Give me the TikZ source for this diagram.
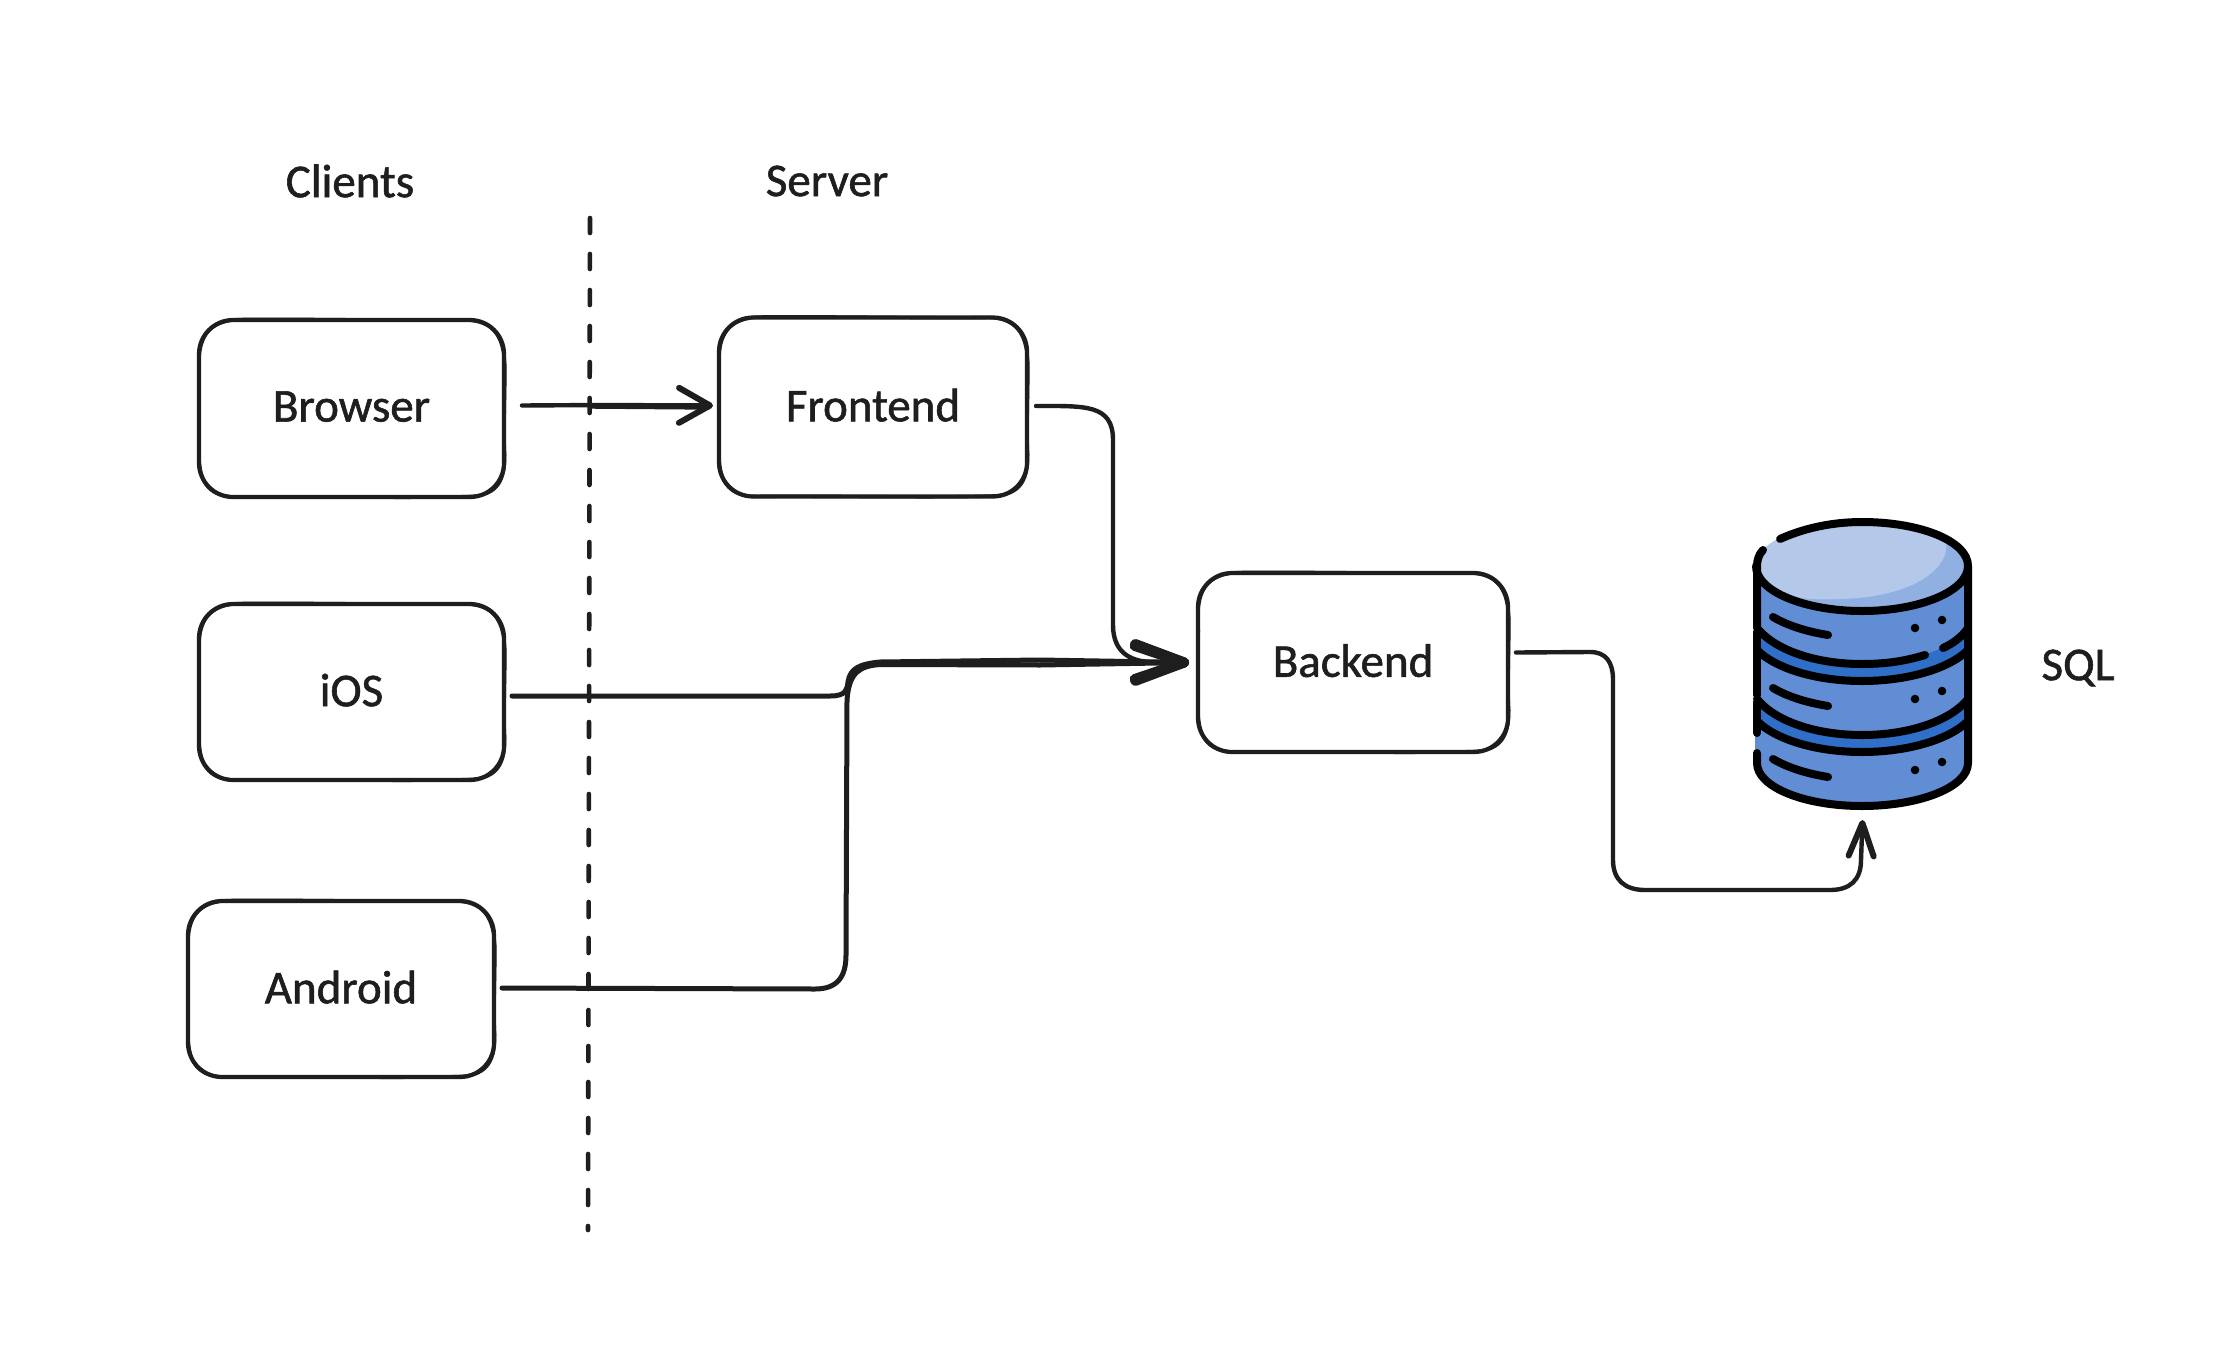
\documentclass[tikz,border=0pt]{standalone}
\usepackage{fontspec}
\setmainfont{Carlito}[FakeBold=1.2]
\usetikzlibrary{arrows.meta,calc}
\definecolor{ink}{HTML}{1E1E1E}
\definecolor{dbtop}{HTML}{B4C9E9}
\definecolor{dbshade}{HTML}{8FB0E0}
\definecolor{dbbody}{HTML}{618DD5}
\definecolor{dbband}{HTML}{2F6FC8}
\tikzset{
  boxnode/.style={draw=ink,line width=4.2pt,rounded corners=34pt,minimum width=#1,inner sep=0pt,outer sep=0pt,text=ink,font=\fontsize{47}{52}\selectfont},
  boxpass/.style={draw=ink,line width=3.4pt,line cap=round},
  label/.style={text=ink,font=\fontsize{47}{52}\selectfont,inner sep=0pt},
  conn/.style={draw=ink,line width=4.4pt,line cap=round,line join=round},
  barb/.style n args={3}{-{Straight Barb[length=#1,width=#2,line width=#3,round]}},
  divider/.style={draw=ink,line width=4.6pt,line cap=round,dash pattern=on 15pt off 21pt},
  dbline/.style={draw=black,line width=8pt,line cap=round,line join=round},
}
\newcommand{\sketchbox}[6]{%
  \node[boxnode=#4pt,minimum height=#5pt] (#1) at (#2,#3) {\raisebox{4pt}{#6}};
  \pgfmathsetmacro{\hw}{#4/2}\pgfmathsetmacro{\hh}{#5/2}
  \begin{scope}[shift={(#1.center)}]
    \draw[boxpass] (-\hw,-\hh+40)
      .. controls (-\hw+1,-\hh+12) and (-\hw+14,-\hh+1) .. (-\hw+40,-\hh-0.5)
      .. controls (-\hw*.4,-\hh-1.5) and (\hw*.4,-\hh+1) .. (\hw-38,-\hh)
      .. controls (\hw-12,-\hh+1) and (\hw-1,-\hh+14) .. (\hw+0.8,-\hh+44)
      .. controls (\hw+1.5,-\hh*.3) and (\hw-1,\hh*.3) .. (\hw+0.8,\hh-42)
      .. controls (\hw+1,\hh-12) and (\hw-10,\hh-1) .. (\hw-36,\hh-0.5)
      .. controls (\hw*.4,\hh+1.5) and (-\hw*.4,\hh-1) .. (-\hw+38,\hh)
      .. controls (-\hw+12,\hh) and (-\hw+1,\hh-12) .. (-\hw,\hh-40)
      .. controls (-\hw-1,\hh*.3) and (-\hw+1,-\hh*.3) .. (-\hw,-\hh+40);
  \end{scope}}
\begin{document}
\begin{tikzpicture}[x=1pt,y=-1pt]
\useasboundingbox[fill=white] (0,0) rectangle (2228,1352);

% headings
\node[label] (clients) at (350,181) {Clients};
\node[label] (server) at (827,181) {Server};
\node[label] (sql) at (2078,668) {SQL};

% divider
\coordinate (dtop) at (590,218);
\coordinate (dbot) at (588,1230);
\draw[divider] (dtop) -- (dbot);

% boxes
\sketchbox{browser}{351.5}{408.5}{305}{177}{Browser}
\sketchbox{frontend}{873}{407}{308}{179}{Frontend}
\sketchbox{ios}{351.5}{692}{305}{176}{iOS}
\sketchbox{android}{341}{989}{306}{176}{Android}
\sketchbox{backend}{1353}{662.5}{310}{179}{Backend}

% database
\node[minimum width=221pt,minimum height=292pt,inner sep=0pt,outer sep=0pt] (db) at (1862.5,664) {};
\fill[dbbody] (1755,566) -- (1755,763)
  .. controls (1755,787) and (1804,806) .. (1862,806)
  .. controls (1920,806) and (1968,787) .. (1968,763) -- (1968,566) -- cycle;
\fill[dbband] (1757,628) .. controls (1775,650) and (1815,664) .. (1862,664)
  .. controls (1909,664) and (1950,650) .. (1968,628) -- (1968,650)
  .. controls (1950,668) and (1909,681) .. (1862,681)
  .. controls (1815,681) and (1775,668) .. (1757,650) -- cycle;
\fill[dbband] (1757,699) .. controls (1775,721) and (1815,735) .. (1862,735)
  .. controls (1909,735) and (1950,721) .. (1968,699) -- (1968,721)
  .. controls (1950,739) and (1909,752) .. (1862,752)
  .. controls (1815,752) and (1775,739) .. (1757,721) -- cycle;
\fill[dbshade] (1756,566) .. controls (1756,541) and (1804,522) .. (1862,522)
  .. controls (1920,522) and (1968,541) .. (1968,566)
  .. controls (1968,591) and (1920,611) .. (1862,611)
  .. controls (1804,611) and (1756,591) .. (1756,566) -- cycle;
\begin{scope}
  \clip (1756,566) .. controls (1756,541) and (1804,522) .. (1862,522)
    .. controls (1920,522) and (1968,541) .. (1968,566)
    .. controls (1968,591) and (1920,611) .. (1862,611)
    .. controls (1804,611) and (1756,591) .. (1756,566) -- cycle;
  \fill[dbtop] (1946,543) .. controls (1950,564) and (1920,597) .. (1840,599)
    .. controls (1820,600) and (1805,599) .. (1797,597) -- (1740,597) -- (1740,500) -- (1946,500) -- cycle;
\end{scope}
% top ellipse strokes
\draw[dbline] (1780,539) .. controls (1802,529) and (1830,522) .. (1862,522)
  .. controls (1920,522) and (1968,541) .. (1968,566)
  .. controls (1968,591) and (1920,611) .. (1862,611)
  .. controls (1804,611) and (1756,591) .. (1756,566);
\draw[dbline] (1763,550) .. controls (1759,554) and (1757,560) .. (1757,566) -- (1757,626);
% sides
\draw[dbline] (1968,566) -- (1968,763)
  .. controls (1968,787) and (1920,806) .. (1862,806)
  .. controls (1804,806) and (1757,787) .. (1757,763) -- (1757,753);
\draw[dbline] (1757,632) -- (1757,695);
\draw[dbline] (1757,702) -- (1757,733);
% layer curves
\draw[dbline] (1757,628) .. controls (1775,650) and (1815,664) .. (1862,664)
  .. controls (1890,664) and (1908,660) .. (1925,655);
\draw[dbline] (1943,648) .. controls (1952,644) and (1962,637) .. (1968,628);
\draw[dbline] (1757,650) .. controls (1775,668) and (1815,681) .. (1862,681)
  .. controls (1909,681) and (1950,668) .. (1968,650);
\draw[dbline] (1757,699) .. controls (1775,721) and (1815,735) .. (1862,735)
  .. controls (1909,735) and (1950,721) .. (1968,699);
\draw[dbline] (1757,721) .. controls (1775,739) and (1815,752) .. (1862,752)
  .. controls (1909,752) and (1950,739) .. (1968,721);
% slashes and dots
\foreach \d in {0,71,142}{
  \draw[dbline] (1773,617+\d) .. controls (1790,627+\d) and (1810,632+\d) .. (1828,635+\d);
  \fill[black] (1915,628+\d) circle[radius=4.3pt];
  \fill[black] (1942,620+\d) circle[radius=4.3pt];
}

% connectors
\draw[conn,barb={31pt}{35pt}{6pt}] ([xshift=18pt,yshift=3pt]browser.east) -- (600,405) -- ([xshift=-6pt,yshift=1.5pt]frontend.west);
\draw[conn,line width=3.4pt] (590,407) -- ([xshift=-10pt,yshift=-1pt]frontend.west);

\draw[conn,barb={49pt}{35pt}{10pt}] ([xshift=9pt,yshift=1pt]frontend.east)
  .. controls (1085,406) and (1113,404) .. (1113,440) -- (1113,625)
  .. controls (1113,652) and (1130,661) .. (1150,662) -- ([xshift=-9pt]backend.west);

\draw[conn,line width=5pt,barb={49pt}{35pt}{10pt}] ([xshift=8pt,yshift=-4pt]ios.east) -- (830,696)
  .. controls (846,696) and (847,690) .. (848,682)
  .. controls (850,668) and (860,664) .. (880,662) -- (1040,660) -- ([xshift=-9pt]backend.west);

\draw[conn,line width=5pt,barb={49pt}{35pt}{10pt}] ([xshift=8pt,yshift=1pt]android.east) -- (815,989)
  .. controls (838,989) and (846,976) .. (846,955) -- (847,700)
  .. controls (849,672) and (860,666) .. (880,664.5) -- (1040,665) -- ([xshift=-9pt]backend.west);

\draw[conn,barb={33pt}{25pt}{6pt}] ([xshift=8pt,yshift=10pt]backend.east) -- (1590,652)
  .. controls (1606,652) and (1613,662) .. (1613,680) -- (1613,860)
  .. controls (1613,880) and (1625,890) .. (1645,890) -- (1830,890)
  .. controls (1850,890) and (1861,880) .. (1861,860) -- ([yshift=-10pt]db.south);
\end{tikzpicture}
\end{document}
